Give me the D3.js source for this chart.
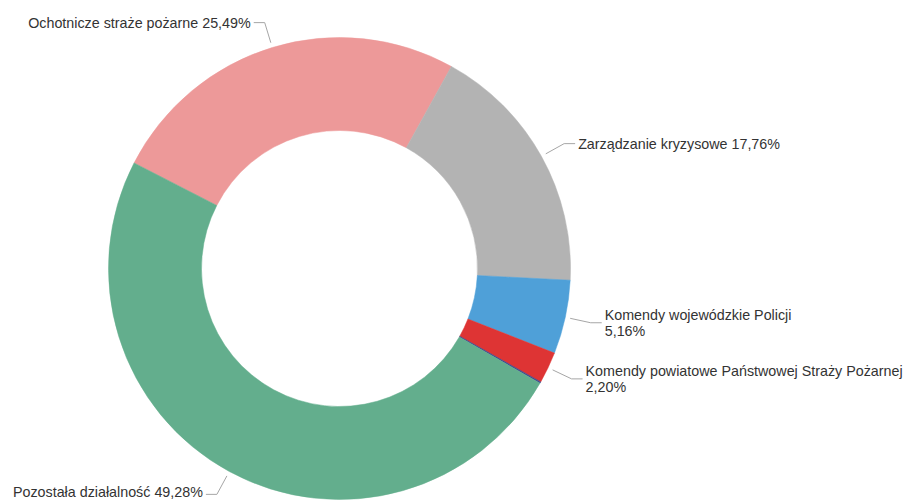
<!DOCTYPE html>
<html>
<head>
<meta charset="utf-8">
<script src="https://cdn.jsdelivr.net/npm/d3@7/dist/d3.min.js"></script>
<style>
  html, body { margin: 0; padding: 0; background: #ffffff; }
  svg { display: block; }
  text { font-family: "Liberation Sans", Arial, sans-serif; font-size: 14.3px; fill: #333333; }
</style>
</head>
<body>
<svg id="chart" width="910" height="501"></svg>
<script>
// ---- data ----
const categories = [
  "Ochotnicze straże pożarne",
  "Zarządzanie kryzysowe",
  "Komendy wojewódzkie Policji",
  "Komendy powiatowe Państwowej Straży Pożarnej",
  "Inne",
  "Pozostała działalność"
];
const values = [25.49, 17.76, 5.16, 2.20, 0.11, 49.28];
const colors = ["#ED9999", "#B3B3B3", "#4FA0D8", "#DE3434", "#3F4A8E", "#63AE8D"];
const labelShown = [true, true, true, true, false, true];
const labelWrapped = [false, false, true, true, false, false];

// ---- layout ----
const W = 910, H = 501;
const cx = 339.5, cy = 268.5;
const rOuter = 231, rInner = 138;
const startAngle = -62.8 * Math.PI / 180;

const svg = d3.select("#chart");
const data = categories.map((c, i) => ({ name: c, v: values[i], color: colors[i], show: labelShown[i], wrap: labelWrapped[i] }));

const pie = d3.pie().sort(null).value(d => d.v)
  .startAngle(startAngle).endAngle(startAngle + 2 * Math.PI);
const arc = d3.arc().innerRadius(rInner).outerRadius(rOuter);
const arcs = pie(data);

const g = svg.append("g").attr("transform", `translate(${cx},${cy})`);
g.selectAll("path.slice").data(arcs).enter().append("path")
  .attr("class", "slice")
  .attr("d", arc)
  .attr("fill", d => d.data.color)
  .attr("stroke", d => d.data.color)
  .attr("stroke-width", 0.5);

const fmt = v => d3.format(".2f")(v).replace(".", ",") + "%";

const R = rOuter + 26;
const lg = svg.append("g");
arcs.filter(a => a.data.show).forEach(a => {
  const mid = (a.startAngle + a.endAngle) / 2;
  const s = Math.sin(mid), c = Math.cos(mid);
  const right = s > 0;
  const p0 = [cx + (rOuter + 5) * s, cy - (rOuter + 5) * c];
  const ly = cy - R * c;
  const dy = ly - cy;
  const bx = cx + (right ? 1 : -1) * Math.sqrt(Math.max(0, R * R - dy * dy));
  const ex = bx + (right ? 11 : -11);
  lg.append("path")
    .attr("d", d3.line()([p0, [bx, ly], [ex, ly]]))
    .attr("fill", "none")
    .attr("stroke", "#A6A6A6")
    .attr("stroke-width", 1);
  const tx = bx + (right ? 14 : -14);
  const center = Math.max(19, Math.min(492, ly));
  const t = lg.append("text")
    .attr("x", tx)
    .attr("text-anchor", right ? "start" : "end");
  if (a.data.wrap) {
    t.append("tspan").attr("x", tx).attr("y", center - 2.5).text(a.data.name);
    t.append("tspan").attr("x", tx).attr("y", center + 12.8).text(fmt(a.data.v));
  } else {
    t.attr("y", center + 5).text(a.data.name + " " + fmt(a.data.v));
  }
});
</script>
</body>
</html>
